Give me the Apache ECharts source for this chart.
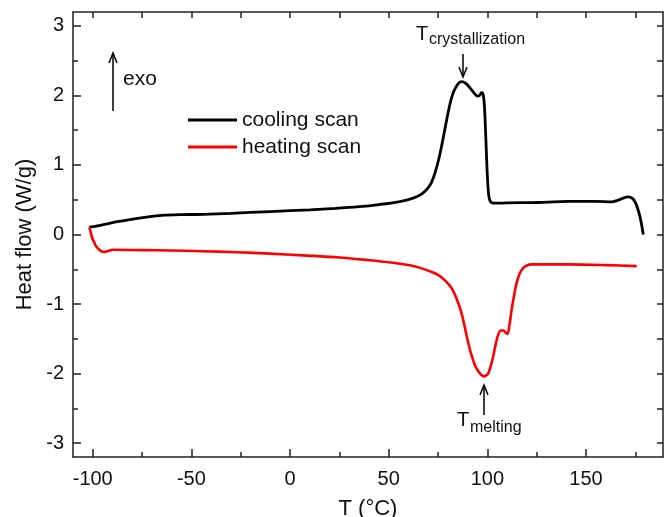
<!DOCTYPE html>
<html>
<head>
    <title>DSC scans</title>
    <script src="https://cdn.jsdelivr.net/npm/echarts@6.0.0/dist/echarts.min.js"></script>
    <style>
        body { margin: 0; background: #fff; }
        #chart { width: 670px; height: 517px; }
    </style>
</head>
<body>
    <div id="chart"></div>
    <script>
        // cooling scan (black), T in degC, heat flow in W/g
        const coolT = [-101.7, -95, -90, -84, -78, -72, -65, -55, -44, -30, -10, 10, 23, 35, 45, 55, 62, 66, 69, 71.5,
            73.5, 75.5, 77, 78.5, 80, 81.5, 83, 84.5, 86, 87.3, 88.7, 90.3, 92, 93.7, 95, 96, 97, 97.8, 98.5, 99.1,
            99.6, 100.1, 100.7, 101.4, 102.5, 104, 110, 124, 141, 155, 163, 166, 168.5, 171.4, 173.5, 175, 176.3,
            177.4, 178.3, 179];
        const coolQ = [0.105, 0.14, 0.17, 0.2, 0.23, 0.255, 0.275, 0.285, 0.29, 0.305, 0.33, 0.355, 0.375, 0.4, 0.43,
            0.47, 0.52, 0.57, 0.64, 0.74, 0.89, 1.1, 1.3, 1.52, 1.74, 1.93, 2.06, 2.14, 2.19, 2.2, 2.18, 2.14, 2.08,
            2.02, 1.99, 2.0, 2.04, 2.02, 1.85, 1.47, 1.1, 0.78, 0.56, 0.48, 0.455, 0.45, 0.455, 0.46, 0.475, 0.475,
            0.47, 0.49, 0.52, 0.54, 0.52, 0.46, 0.36, 0.25, 0.12, 0.0];

        // heating scan (red)
        const heatT = [-101.7, -101, -100.3, -99.3, -98.3, -97, -95.5, -94, -92, -89.9, -75, -61, -45, -27, -10, 6.5,
            25, 40, 50, 60, 66, 71, 75, 78.5, 81.8, 84.5, 86.9, 88.7, 90.3, 92, 93.7, 95.5, 97, 98.2, 99.3, 100.4,
            101.6, 102.9, 104.2, 105.5, 106.8, 108, 109.2, 110.2, 111.2, 112.3, 113.5, 114.8, 116.4, 118.2, 120,
            122.4, 141, 160, 175.7];
        const heatQ = [0.105, 0.03, -0.05, -0.11, -0.17, -0.21, -0.245, -0.25, -0.235, -0.22, -0.225, -0.23, -0.24,
            -0.255, -0.275, -0.3, -0.33, -0.37, -0.4, -0.44, -0.48, -0.53, -0.58, -0.66, -0.77, -0.93, -1.13, -1.35,
            -1.56, -1.74, -1.88, -1.97, -2.02, -2.04, -2.03, -2.0, -1.9, -1.76, -1.58, -1.44, -1.38, -1.38, -1.41,
            -1.43, -1.3, -1.08, -0.88, -0.7, -0.56, -0.48, -0.445, -0.43, -0.43, -0.44, -0.455];

        const xMajor = [-100, -50, 0, 50, 100, 150];
        const xMinor = [-75, -25, 25, 75, 125, 175];
        const xAll = [-100, -75, -50, -25, 0, 25, 50, 75, 100, 125, 150, 175];
        const yMajor = [-3, -2, -1, 0, 1, 2, 3];
        const yMinor = [-2.5, -1.5, -0.5, 0.5, 1.5, 2.5];
        const yAll = [-3, -2.5, -2, -1.5, -1, -0.5, 0, 0.5, 1, 1.5, 2, 2.5, 3];

        const FONT = 'Liberation Sans, Arial, sans-serif';
        const AX = '#222';

        const zip = (a, b) => a.map((v, i) => [v, b[i]]);

        function tickAxis(pos, ticks, len, extra) {
            return Object.assign({
                type: 'value', position: pos,
                axisLine: { show: false, onZero: false },
                axisTick: { show: true, inside: true, length: len, customValues: ticks,
                    lineStyle: { color: AX, width: 1.5 } },
                axisLabel: { show: false },
                splitLine: { show: false }
            }, extra);
        }

        const chart = echarts.init(document.getElementById('chart'));
        chart.setOption({
            animation: false,
            grid: { left: 73, right: 7, top: 12, bottom: 60, containLabel: false, outerBoundsMode: 'none' },
            xAxis: [
                {
                    type: 'value', position: 'bottom', min: -110, max: 189,
                    name: 'T (\u00B0C)', nameLocation: 'middle', nameGap: 33, nameMoveOverlap: false,
                    nameTextStyle: { fontFamily: FONT, fontSize: 22, color: '#111' },
                    axisLine: { show: true, onZero: false, lineStyle: { color: AX, width: 1.5 } },
                    axisTick: { show: true, inside: true, length: 8, customValues: xMajor,
                        lineStyle: { color: AX, width: 1.5 } },
                    axisLabel: { customValues: xMajor, fontFamily: FONT, fontSize: 20, color: '#111', margin: 5 },
                    splitLine: { show: false }
                },
                tickAxis('bottom', xMinor, 5, { min: -110, max: 189 }),
                tickAxis('top', xAll, 6, { min: -110, max: 189,
                    axisLine: { show: true, onZero: false, lineStyle: { color: AX, width: 1.5 } } })
            ],
            yAxis: [
                {
                    type: 'value', position: 'left', min: -3.2, max: 3.2,
                    name: 'Heat flow (W/g)', nameLocation: 'middle', nameGap: 29, nameMoveOverlap: false,
                    nameTextStyle: { fontFamily: FONT, fontSize: 22, color: '#111' },
                    axisLine: { show: true, onZero: false, lineStyle: { color: AX, width: 1.5 } },
                    axisTick: { show: true, inside: true, length: 8, customValues: yMajor,
                        lineStyle: { color: AX, width: 1.5 } },
                    axisLabel: { customValues: yMajor, fontFamily: FONT, fontSize: 20, color: '#111', margin: 9 },
                    splitLine: { show: false }
                },
                tickAxis('left', yMinor, 5, { min: -3.2, max: 3.2 }),
                tickAxis('right', yAll, 6, { min: -3.2, max: 3.2,
                    axisLine: { show: true, onZero: false, lineStyle: { color: AX, width: 1.5 } } })
            ],
            legend: [
                {
                    left: 188, top: 102, padding: 0,
                    icon: 'rect', itemWidth: 49, itemHeight: 3,
                    textStyle: { fontFamily: FONT, fontSize: 21, color: '#111' },
                    data: ['cooling scan']
                },
                {
                    left: 188, top: 129, padding: 0,
                    icon: 'rect', itemWidth: 49, itemHeight: 3,
                    textStyle: { fontFamily: FONT, fontSize: 21, color: '#111' },
                    data: ['heating scan']
                }
            ],
            series: [
                {
                    name: 'cooling scan', type: 'line', data: zip(coolT, coolQ),
                    symbol: 'none', smooth: 0.3,
                    lineStyle: { color: '#000', width: 2.8 }, itemStyle: { color: '#000' }
                },
                {
                    name: 'heating scan', type: 'line', data: zip(heatT, heatQ),
                    symbol: 'none', smooth: 0.3,
                    lineStyle: { color: '#ff0000', width: 2.6 }, itemStyle: { color: '#ff0000' }
                }
            ],
            graphic: [
                // exo arrow
                { type: 'polyline', shape: { points: [[113, 111], [113, 54]] }, style: { stroke: '#000', lineWidth: 1.5 } },
                { type: 'polyline', shape: { points: [[109, 63], [113, 53], [117, 63]] }, style: { stroke: '#000', lineWidth: 1.5, fill: null } },
                { type: 'text', x: 123, y: 79, style: { text: 'exo', font: '21px ' + FONT, fill: '#111', verticalAlign: 'middle' } },
                // T crystallization
                { type: 'text', x: 416, y: 34, style: { text: 'T', font: '20px ' + FONT, fill: '#111', verticalAlign: 'middle' } },
                { type: 'text', x: 429, y: 40, style: { text: 'crystallization', font: '16px ' + FONT, fill: '#111', verticalAlign: 'middle' } },
                { type: 'polyline', shape: { points: [[463, 54], [463, 76]] }, style: { stroke: '#000', lineWidth: 1.5 } },
                { type: 'polyline', shape: { points: [[459, 67], [463, 77], [467, 67]] }, style: { stroke: '#000', lineWidth: 1.5, fill: null } },
                // T melting
                { type: 'polyline', shape: { points: [[484, 386], [484, 415]] }, style: { stroke: '#000', lineWidth: 1.5 } },
                { type: 'polyline', shape: { points: [[480, 395], [484, 385], [488, 395]] }, style: { stroke: '#000', lineWidth: 1.5, fill: null } },
                { type: 'text', x: 457, y: 420, style: { text: 'T', font: '20px ' + FONT, fill: '#111', verticalAlign: 'middle' } },
                { type: 'text', x: 470, y: 428, style: { text: 'melting', font: '16px ' + FONT, fill: '#111', verticalAlign: 'middle' } }
            ]
        });
    </script>
</body>
</html>
